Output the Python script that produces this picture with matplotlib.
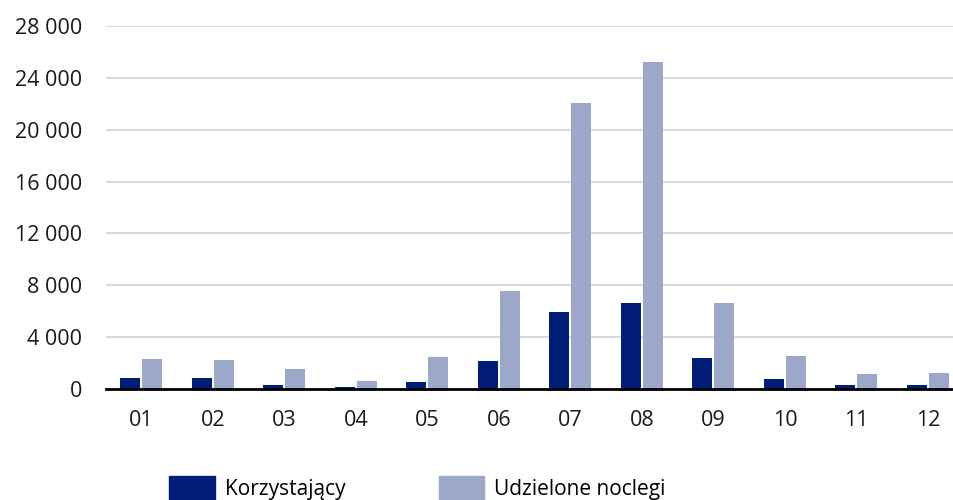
import numpy as np
import matplotlib.pyplot as plt
from matplotlib.ticker import FuncFormatter
from matplotlib.patches import Patch

months = ["01", "02", "03", "04", "05", "06", "07", "08", "09", "10", "11", "12"]
korzystajacy = [850, 850, 310, 150, 570, 2170, 5930, 6600, 2370, 800, 310, 310]
noclegi = [2340, 2240, 1520, 620, 2470, 7530, 22040, 25260, 6630, 2530, 1140, 1240]
yticks = [0, 4000, 8000, 12000, 16000, 20000, 24000, 28000]

dark = "#001e77"
light = "#9ba8ca"

plt.rcParams['font.family'] = ['Open Sans', 'DejaVu Sans']

fig = plt.figure(figsize=(9.54, 5.0), dpi=100)
ax = fig.add_axes([105.7 / 954, 1 - 389 / 500, 858 / 954, 363 / 500])

x = np.arange(len(months))
w = 0.28
off = 0.154
ax.bar(x - off, korzystajacy, width=w, color=dark, zorder=3)
ax.bar(x + off, noclegi, width=w, color=light, zorder=3)

ax.set_xlim(-0.5, len(months) - 0.5)
ax.set_ylim(0, 28000)
ax.set_yticks(yticks)
ax.yaxis.set_major_formatter(FuncFormatter(lambda v, p: f"{int(v):,}".replace(",", " ")))
ax.set_xticks(x)
ax.set_xticklabels(months)
ax.tick_params(axis='both', length=0, labelsize=15.5, colors="#1a1a1a")
ax.tick_params(axis='y', pad=17)
ax.tick_params(axis='x', pad=15)

ax.grid(axis='y', color="#d9d9d9", linewidth=1.5, zorder=0)
for s in ["top", "right", "left"]:
    ax.spines[s].set_visible(False)
ax.spines["bottom"].set_color("black")
ax.spines["bottom"].set_linewidth(2)
ax.spines["bottom"].set_zorder(4)

handles = [Patch(color=dark, label="Korzystający"), Patch(color=light, label="Udzielone noclegi")]
fig.legend(handles=handles, loc="center left", bbox_to_anchor=(150.7 / 954, 1 - 488 / 500),
           ncol=2, frameon=False, fontsize=15, handlelength=2.2, handleheight=1.35,
           columnspacing=4.45, handletextpad=0.48)

fig.savefig("out.png", dpi=100)
